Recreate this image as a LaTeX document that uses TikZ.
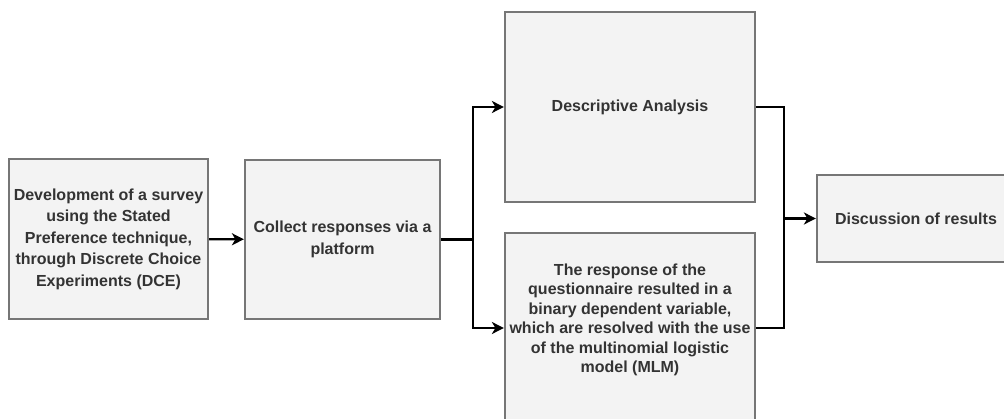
\documentclass[tikz,border=0pt]{standalone}
\usepackage{fontspec}
\setmainfont{Liberation Sans}
\usepackage{tikz}
\usetikzlibrary{positioning,arrows.meta}
\definecolor{boxfill}{RGB}{243, 243, 243}
\definecolor{boxline}{RGB}{118, 118, 118}
\definecolor{boxtext}{RGB}{51, 51, 51}

\begin{document}
\begin{tikzpicture}[x=1pt, y=1pt,
    stagebox/.style={draw=boxline, fill=boxfill, line width=2.2pt,
      align=center, inner sep=0pt, text=boxtext,
      font=\fontsize{16}{21.5}\selectfont\bfseries},
    link/.style={line width=2.2pt, black},
    linkto/.style={link, -{Stealth[length=12pt, width=12pt, inset=3.5pt]}}]

\useasboundingbox (0,0) rectangle (1004,418);

%% ── STAGES ───────────────────────────────────────────────────────────────────
\node[stagebox, minimum width=199, minimum height=160] (survey) at (108.5,179)
  {Development of a survey\\using the Stated\\Preference technique,\\
   through Discrete Choice\\Experiments (DCE)};

\node[stagebox, minimum width=195, minimum height=159] (collect) at (342.5,178.5)
  {Collect responses via a\\platform};

\node[stagebox, minimum width=250, minimum height=190] (descr) at (630,311)
  {Descriptive Analysis};

% lower branch runs past the bottom edge; empty last line lifts the text
\node[stagebox, minimum width=250, minimum height=190,
      font=\fontsize{16}{19.5}\selectfont\bfseries] (mlm) at (630,90)
  {The response of the\\questionnaire resulted in a\\binary dependent variable,\\
   which are resolved with the use\\of the multinomial logistic\\model (MLM)\\ \mbox{}};

\node[stagebox, minimum width=198, minimum height=87] (discuss) at (916,199.5)
  {Discussion of results};

%% ── CONNECTORS ───────────────────────────────────────────────────────────────
\coordinate[right=32pt of collect.east] (fork);
\coordinate[left=32pt of discuss.west] (join);

\draw[linkto] (survey) -- (collect);

% split into the two analyses
\draw[link] (collect.east) -- (fork);
\draw[linkto] (fork) |- (descr.west);
\draw[linkto] (fork) |- (mlm.west);

% both branches meet again
\draw[link] (descr.east) -| (join);
\draw[link] (mlm.east) -| (join);
\draw[linkto] (join) -- (discuss);

\end{tikzpicture}
\end{document}
